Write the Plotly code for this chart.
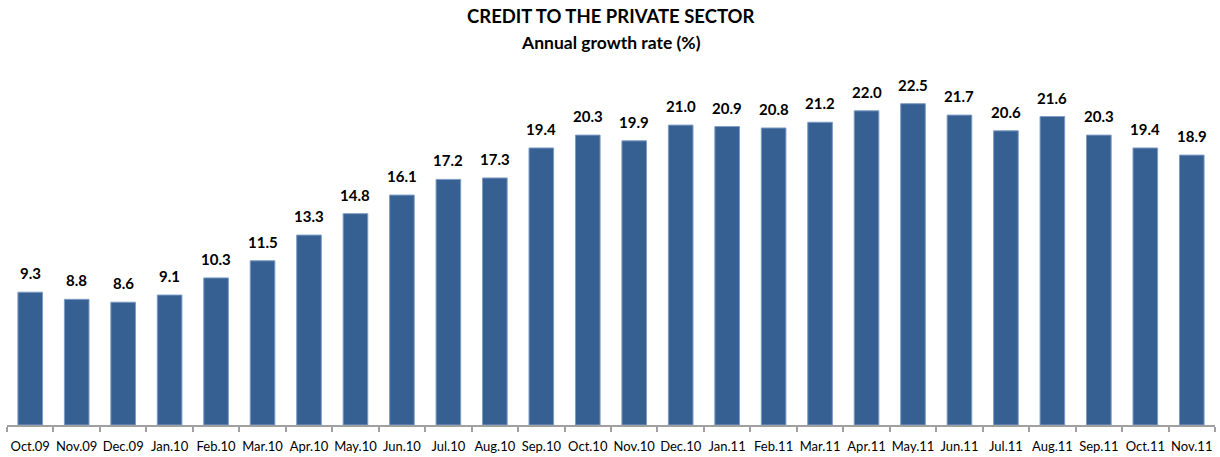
import plotly.graph_objects as go

categories = ["Oct.09","Nov.09","Dec.09","Jan.10","Feb.10","Mar.10","Apr.10","May.10","Jun.10",
              "Jul.10","Aug.10","Sep.10","Oct.10","Nov.10","Dec.10","Jan.11","Feb.11","Mar.11",
              "Apr.11","May.11","Jun.11","Jul.11","Aug.11","Sep.11","Oct.11","Nov.11"]
values = [9.3, 8.8, 8.6, 9.1, 10.3, 11.5, 13.3, 14.8, 16.1, 17.2, 17.3, 19.4, 20.3, 19.9,
          21.0, 20.9, 20.8, 21.2, 22.0, 22.5, 21.7, 20.6, 21.6, 20.3, 19.4, 18.9]

FONT = "Lato, Open Sans, sans-serif"

fig = go.Figure(go.Bar(
    x=categories, y=values,
    marker=dict(color="#376092", line=dict(color="#7d9cc4", width=1)),
    width=0.53,
    hoverinfo="x+y",
))

plot_h = 457 - 68 - 32
annotations = [
    dict(text="<b>CREDIT TO THE PRIVATE SECTOR</b>", x=0.5, y=(457 - 32 - 16) / plot_h,
         xref="paper", yref="paper", showarrow=False,
         font=dict(family=FONT, size=18.5, color="#000000"), yanchor="middle"),
    dict(text="<b>Annual growth rate (%)</b>", x=0.5, y=(457 - 32 - 42) / plot_h,
         xref="paper", yref="paper", showarrow=False,
         font=dict(family=FONT, size=17.5, color="#000000"), yanchor="middle"),
]
for c, v in zip(categories, values):
    annotations.append(dict(
        text=f"<b>{v:.1f}</b>", x=c, y=v, xref="x", yref="y",
        showarrow=False, yanchor="bottom", yshift=8,
        font=dict(family=FONT, size=15, color="#000000"),
    ))

fig.update_layout(
    width=1220, height=457,
    margin=dict(l=7, r=5, t=68, b=32),
    paper_bgcolor="white", plot_bgcolor="white",
    showlegend=False,
    font=dict(family=FONT),
    annotations=annotations,
)

fig.update_xaxes(
    showline=True, linecolor="#a0a0a0", linewidth=1.5,
    ticks="outside", tickson="boundaries", ticklen=5, tickcolor="#a0a0a0", tickwidth=1.5,
    tickfont=dict(family=FONT, size=13, color="#000000"),
    tickangle=0, automargin=False,
    ticklabelstandoff=9,
    showgrid=False,
)
fig.update_yaxes(range=[0, 25], visible=False, showgrid=False, zeroline=False)

fig.write_html("out.html")
